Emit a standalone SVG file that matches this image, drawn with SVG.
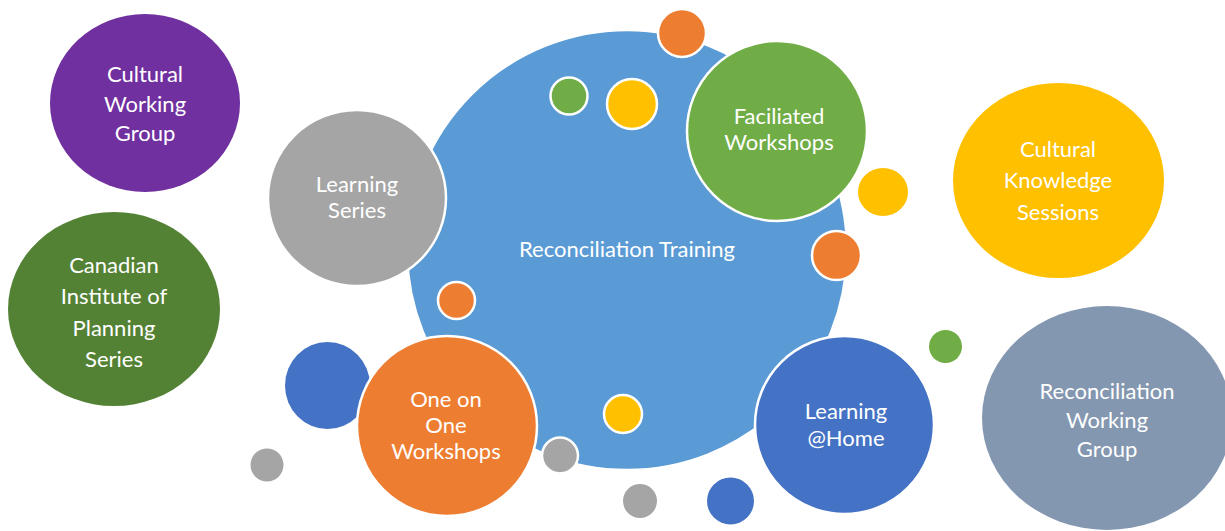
<svg xmlns="http://www.w3.org/2000/svg" width="1225" height="531" viewBox="0 0 1225 531">
<style>
.b{stroke:#fff;stroke-width:2.5}
.t{font-family:Lato,"Liberation Sans",sans-serif;font-size:22px;fill:#fff;text-anchor:middle}
</style>
<rect width="1225" height="531" fill="#fff"/>
<g id="reconciliation-training"><circle class="b" cx="627" cy="250" r="220" fill="#5B9BD5"/><text class="t" x="627" y="257">Reconciliation Training</text></g>
<g id="cultural-working-group"><ellipse cx="145" cy="103" rx="95" ry="89" fill="#7030A0"/><text class="t" x="145" y="82">Cultural</text><text class="t" x="145" y="112">Working</text><text class="t" x="145" y="141">Group</text></g>
<g id="canadian-institute"><ellipse cx="114" cy="309" rx="106" ry="97" fill="#548235"/><text class="t" x="114" y="273">Canadian</text><text class="t" x="114" y="304">Institute of</text><text class="t" x="114" y="336">Planning</text><text class="t" x="114" y="367">Series</text></g>
<g id="learning-series"><ellipse class="b" cx="357" cy="198" rx="89" ry="88" fill="#A5A5A5"/><text class="t" x="357" y="192">Learning</text><text class="t" x="357" y="218">Series</text></g>
<g id="dot-orange-top"><circle class="b" cx="682" cy="33" r="24" fill="#ED7D31"/></g>
<g id="dot-green-in"><circle class="b" cx="569" cy="96" r="18.5" fill="#70AD47"/></g>
<g id="dot-yellow-in"><circle class="b" cx="632" cy="104" r="25" fill="#FFC000"/></g>
<g id="faciliated-workshops"><circle class="b" cx="777" cy="131" r="90" fill="#70AD47"/><text class="t" x="779" y="124">Faciliated</text><text class="t" x="779" y="150">Workshops</text></g>
<g id="dot-yellow-right"><ellipse cx="883" cy="192" rx="25" ry="24" fill="#FFC000"/></g>
<g id="dot-orange-right"><circle class="b" cx="836.5" cy="255.5" r="24.5" fill="#ED7D31"/></g>
<g id="cultural-knowledge-sessions"><ellipse cx="1058.5" cy="180.5" rx="105.5" ry="97.5" fill="#FFC000"/><text class="t" x="1058" y="157">Cultural</text><text class="t" x="1058" y="188">Knowledge</text><text class="t" x="1058" y="220">Sessions</text></g>
<g id="dot-orange-left"><circle class="b" cx="456.5" cy="300.5" r="18.5" fill="#ED7D31"/></g>
<g id="dot-blue-left"><ellipse cx="327.5" cy="385.5" rx="42.5" ry="43.5" fill="#4472C4"/></g>
<g id="one-on-one-workshops"><circle class="b" cx="447" cy="426" r="90" fill="#ED7D31"/><text class="t" x="446" y="407">One on</text><text class="t" x="446" y="433">One</text><text class="t" x="446" y="459">Workshops</text></g>
<g id="dot-gray-left"><circle cx="267" cy="465" r="16.5" fill="#A5A5A5"/></g>
<g id="dot-gray-mid"><circle class="b" cx="560" cy="455.5" r="18" fill="#A5A5A5"/></g>
<g id="dot-yellow-bottom"><circle class="b" cx="623" cy="414" r="19" fill="#FFC000"/></g>
<g id="dot-gray-bottom"><circle cx="640" cy="501" r="17" fill="#A5A5A5"/></g>
<g id="dot-blue-bottom"><circle cx="730.5" cy="501" r="23.5" fill="#4472C4"/></g>
<g id="learning-home"><ellipse class="b" cx="844.5" cy="425" rx="89.5" ry="89" fill="#4472C4"/><text class="t" x="846" y="419">Learning</text><text class="t" x="846" y="446">@Home</text></g>
<g id="dot-green-right"><circle cx="945.5" cy="346.5" r="16.5" fill="#70AD47"/></g>
<g id="reconciliation-working-group"><ellipse cx="1107" cy="418" rx="125" ry="112" fill="#8497B0"/><text class="t" x="1107" y="399">Reconciliation</text><text class="t" x="1107" y="428">Working</text><text class="t" x="1107" y="457">Group</text></g>
<g id="connectors"/>
</svg>
